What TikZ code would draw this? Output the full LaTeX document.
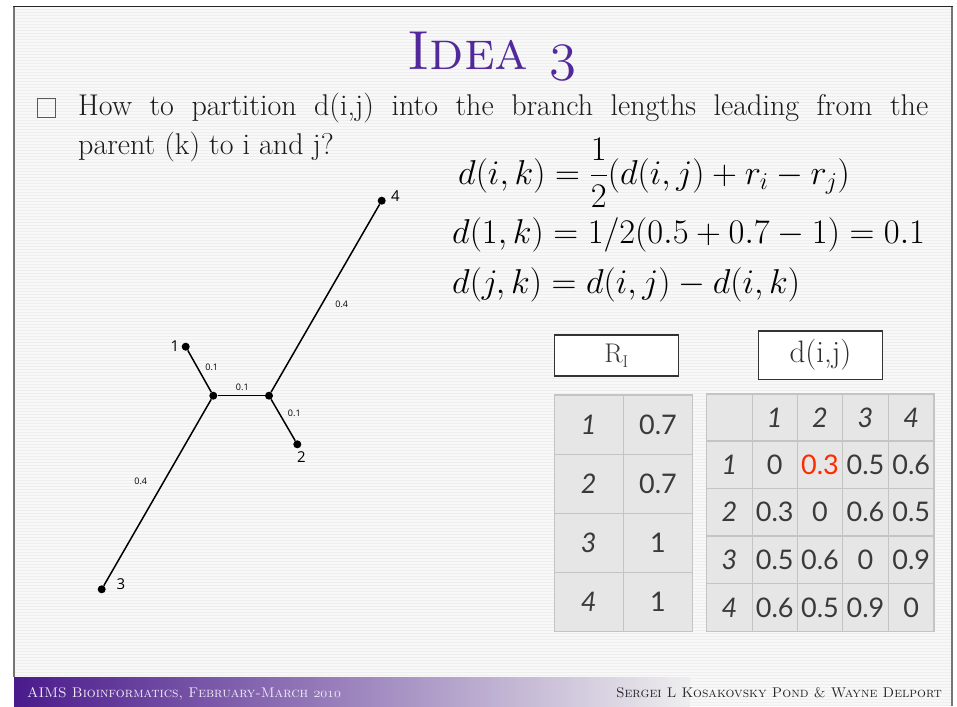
\RequirePackage{fix-cm}
\documentclass[tikz,border=0pt]{standalone}
\usepackage{fontspec}
\newfontfamily\capsfont{lmromancaps10-regular.otf}
\newfontfamily\cellfont{Lato}
\newfontfamily\treefont{Open Sans}
\definecolor{slidebg}{HTML}{EEEEEE}
\definecolor{stripec}{HTML}{F8F8F8}
\definecolor{titlepurple}{HTML}{52299A}
\definecolor{fpurple}{HTML}{4A1A8C}
\definecolor{fmid}{HTML}{AE98D2}
\definecolor{celltext}{HTML}{3A3A3A}
\definecolor{cellbg}{HTML}{E6E6E6}
\definecolor{gridc}{HTML}{C4C4C4}
\definecolor{hired}{HTML}{FF2A00}
\definecolor{bodytext}{HTML}{1C1C1C}
\definecolor{framegray}{HTML}{767676}
\begin{document}
\begin{tikzpicture}[x=1pt,y=-1pt,
  treedot/.style={circle,fill=black,inner sep=0pt,minimum size=8pt},
  branch/.style={line width=1.5pt},
  nlab/.style={font=\treefont\fontsize{15}{15}\selectfont,inner sep=0pt},
  elab/.style={font=\treefont\fontsize{9}{9}\selectfont,inner sep=0pt},
  cell/.style={font=\cellfont\fontsize{27}{27}\selectfont,text=celltext,inner sep=0pt},
  icell/.style={cell,font=\cellfont\itshape\fontsize{27}{27}\selectfont},
  gridline/.style={draw=gridc,line width=1.5pt},
  hbox/.style={draw=black!80,fill=white,line width=1.2pt},
  eq/.style={anchor=base west,inner sep=0pt,font=\fontsize{34.5}{40}\selectfont}]
\useasboundingbox (0,0) rectangle (957,706);
\fill[white] (0,0) rectangle (957,706);
% slide background with pinstripes
\fill[slidebg] (14,6) rectangle (952,706);
\foreach \yy in {8,11,...,704} \draw[stripec,line width=1.5pt] (15,\yy) -- (951,\yy);
% footer bar
\shade[left color=fpurple,middle color=fmid,right color=slidebg] (14,677) rectangle (690,706);
% frame
\draw[framegray,line width=2.5pt] (14,6) -- (14,677);
\draw[framegray,line width=2.5pt] (952,6) -- (952,706);
\draw[black!85,line width=1.5pt] (13,6.5) -- (953,6.5);
% title
\node[anchor=base,inner sep=0pt,text=titlepurple,font=\capsfont\fontsize{55}{55}\selectfont] (title) at (492,70) {Idea {\usefont{OML}{cmm}{m}{it}3}};
% bullet
\draw[black!65,line width=1pt] (37,99) rectangle (55,117);
\node[anchor=base west,text width=850pt,align=justify,inner sep=0pt,text=bodytext,font=\fontsize{30}{39}\selectfont] (body) at (78,115) {\fontsize{30}{39}\selectfont How to partition d(i,j) into the branch lengths leading from the\linebreak parent (k) to i and j?};
% equations
\node[eq] (e1) at (458,184) {$d(i,k) = {\displaystyle\frac{1}{2}}(d(i,j)+r_i-r_j)$};
\node[eq] (e2) at (452,243) {$d(1,k) = 1/2(0.5+0.7-1) = 0.1$};
\node[eq] (e3) at (452,293) {$d(j,k) = d(i,j) - d(i,k)$};
% tree
\node[treedot] (n4) at (381.7,200.7) {};
\node[treedot] (n1) at (185.7,346.7) {};
\node[treedot] (ia) at (213.3,395.7) {};
\node[treedot] (ib) at (269,395.7) {};
\node[treedot] (n2) at (297.3,444.3) {};
\node[treedot] (n3) at (101.7,589.3) {};
\draw[branch] (n1) -- (ia);
\draw[branch] (ia) -- (ib);
\draw[branch] (ib) -- (n2);
\draw[branch] (ib) -- (n4);
\draw[branch] (ia) -- (n3);
\node[nlab] (l4) at (395.5,196) {4};
\node[nlab] (l1) at (175,346.5) {1};
\node[nlab] (l2) at (301.5,457) {2};
\node[nlab] (l3) at (121,584) {3};
\node[elab] (w4) at (341.7,304) {0.4};
\node[elab] (w1) at (211.7,367.3) {0.1};
\node[elab] (wm) at (242.3,387.3) {0.1};
\node[elab] (w2) at (294.3,413.3) {0.1};
\node[elab] (w3) at (140.7,481) {0.4};
% header boxes
\node[hbox,minimum width=124pt,minimum height=41pt,inner sep=0pt,text=black!78,font=\fontsize{27}{27}\selectfont] (ri) at (616.3,355.5) {R\raisebox{-5pt}{\fontsize{17}{17}\selectfont I}};
\node[hbox,minimum width=124.4pt,minimum height=48.3pt,inner sep=0pt,text=black!82,font=\fontsize{31}{31}\selectfont] (dij) at (820.5,355.2) {d(i,j)};
% left table
\fill[cellbg] (554.3,395) rectangle (692.7,631.7);
\draw[gridline] (554.3,395) rectangle (692.7,631.7);
\draw[gridline] (623.3,395) -- (623.3,631.7);
\foreach \yy in {454.3,513.3,572.7} \draw[gridline] (554.3,\yy) -- (692.7,\yy);
\node[icell] (r1) at (588.8,424.7) {1};
\node[icell] (r2) at (588.8,483.8) {2};
\node[icell] (r3) at (588.8,543) {3};
\node[icell] (r4) at (588.8,602.2) {4};
\node[cell] (v1) at (658,424.7) {0.7};
\node[cell] (v2) at (658,483.8) {0.7};
\node[cell] (v3) at (658,543) {1};
\node[cell] (v4) at (658,602.2) {1};
% right table
\fill[cellbg] (706.7,394) rectangle (934,631.7);
\draw[gridline] (706.7,394) rectangle (934,631.7);
\foreach \xx in {752.3,797.3,842.7,888.3} \draw[gridline] (\xx,394) -- (\xx,631.7);
\foreach \yy in {441,488.3,536,583.3} \draw[gridline] (706.7,\yy) -- (934,\yy);
\node[icell] (h1) at (774.8,417.5) {1};
\node[icell] (h2) at (820,417.5) {2};
\node[icell] (h3) at (865.5,417.5) {3};
\node[icell] (h4) at (911.2,417.5) {4};
\node[icell] (c1) at (729.5,464.7) {1};
\node[icell] (c2) at (729.5,512.2) {2};
\node[icell] (c3) at (729.5,559.7) {3};
\node[icell] (c4) at (729.5,607.5) {4};
\node[cell] (m11) at (774.8,464.7) {0};
\node[cell,text=hired] (m12) at (820,464.7) {0.3};
\node[cell] (m13) at (865.5,464.7) {0.5};
\node[cell] (m14) at (911.2,464.7) {0.6};
\node[cell] (m21) at (774.8,512.2) {0.3};
\node[cell] (m22) at (820,512.2) {0};
\node[cell] (m23) at (865.5,512.2) {0.6};
\node[cell] (m24) at (911.2,512.2) {0.5};
\node[cell] (m31) at (774.8,559.7) {0.5};
\node[cell] (m32) at (820,559.7) {0.6};
\node[cell] (m33) at (865.5,559.7) {0};
\node[cell] (m34) at (911.2,559.7) {0.9};
\node[cell] (m41) at (774.8,607.5) {0.6};
\node[cell] (m42) at (820,607.5) {0.5};
\node[cell] (m43) at (865.5,607.5) {0.9};
\node[cell] (m44) at (911.2,607.5) {0};
% footer texts
\node[anchor=base west,inner sep=0pt,text=white!92!fpurple,font=\capsfont\fontsize{14}{14}\selectfont] (fl) at (27,697) {AIMS Bioinformatics, February-March {\usefont{OML}{cmm}{m}{it}2010}};
\node[anchor=base east,inner sep=0pt,text=black!85,font=\capsfont\fontsize{14}{14}\selectfont] (fr) at (942,697) {Sergei L Kosakovsky Pond \& Wayne Delport};
\end{tikzpicture}
\end{document}
